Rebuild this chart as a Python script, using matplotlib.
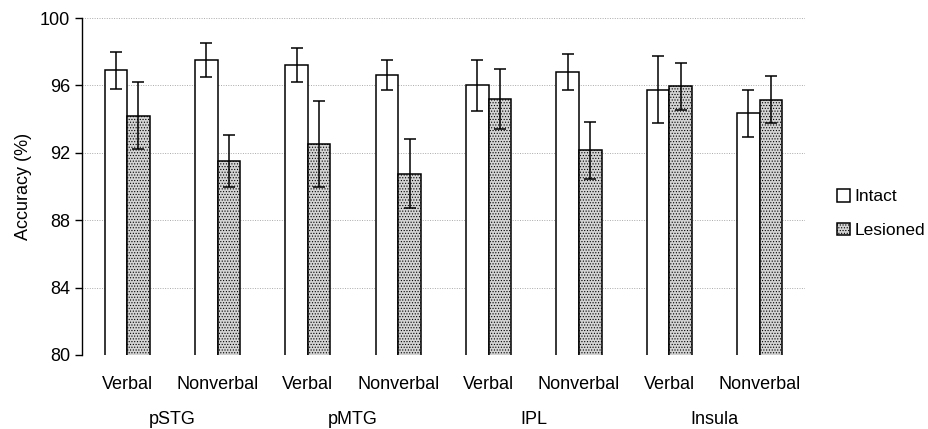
import numpy as np
import matplotlib.pyplot as plt

plt.rcParams['font.family'] = ['Liberation Sans', 'DejaVu Sans']
plt.rcParams['hatch.linewidth'] = 0.5
plt.rcParams['hatch.color'] = '#555555'

regions = ['pSTG', 'pMTG', 'IPL', 'Insula']
conditions = ['Verbal', 'Nonverbal'] * 4
intact = [96.9, 97.5, 97.2, 96.6, 96.0, 96.8, 95.75, 94.35]
intact_err = [1.1, 1.0, 1.0, 0.9, 1.5, 1.05, 2.0, 1.4]
lesioned = [94.2, 91.5, 92.5, 90.75, 95.2, 92.15, 95.95, 95.15]
lesioned_err = [2.0, 1.55, 2.55, 2.05, 1.8, 1.7, 1.4, 1.4]

fig = plt.figure(figsize=(9.29, 4.29), dpi=100)
ax = fig.add_axes([0.0883, 0.1725, 0.778, 0.7855])

x = np.arange(len(conditions))
w = 0.25
err_kw = dict(ecolor='black', elinewidth=1.1, capsize=4, capthick=1.1)
ax.bar(x - w / 2, intact, w, yerr=intact_err, color='white',
       edgecolor='black', linewidth=1.1, label='Intact', error_kw=err_kw, zorder=3)
ax.bar(x + w / 2, lesioned, w, yerr=lesioned_err, color='#d4d4d4',
       edgecolor='black', linewidth=1.1, hatch='......', label='Lesioned',
       error_kw=err_kw, zorder=3)

ax.set_ylim(80, 100)
ax.set_xlim(-0.5, len(conditions) - 0.5)
ax.set_yticks([80, 84, 88, 92, 96, 100])
ax.tick_params(axis='y', labelsize=13, length=5, direction='out', width=1)
ax.set_xticks(x)
ax.set_xticklabels(conditions, fontsize=13)
ax.tick_params(axis='x', length=0, pad=15)
ax.yaxis.grid(True, linestyle=(0, (1, 1.5)), color='#aaaaaa', linewidth=0.7, zorder=0)
ax.set_axisbelow(True)
for s in ['top', 'right', 'bottom']:
    ax.spines[s].set_visible(False)
ax.spines['left'].set_linewidth(1.0)
ax.set_ylabel('Accuracy (%)', fontsize=13, labelpad=6)

for i, r in enumerate(regions):
    ax.text(2 * i + 0.5, -0.19, r, transform=ax.get_xaxis_transform(),
            ha='center', va='center', fontsize=13)

ax.legend(loc='center left', bbox_to_anchor=(1.028, 0.42), frameon=False,
          fontsize=12.5, handlelength=0.75, handleheight=0.75, handletextpad=0.25,
          labelspacing=1.05, borderaxespad=0.3)

fig.savefig('out.png', dpi=100)
